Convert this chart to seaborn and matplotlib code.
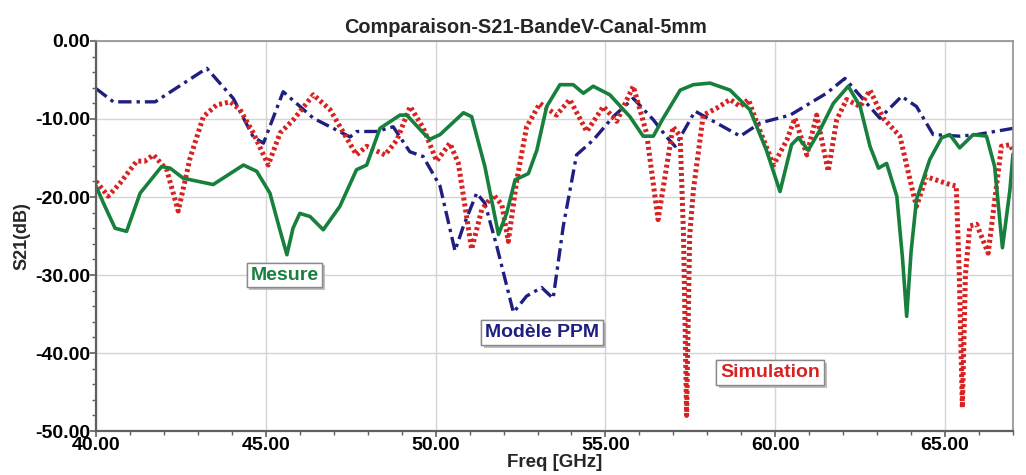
import matplotlib
matplotlib.use("Agg")
import matplotlib.pyplot as plt
import matplotlib.patheffects as pe
from matplotlib.ticker import MultipleLocator, FormatStrFormatter
import seaborn as sns
import pandas as pd

# Mesure (green, solid)
mes_f = [40.0, 40.22, 40.56, 40.9, 41.3, 41.93, 42.18, 42.57, 43.45, 44.34, 44.73, 45.12,
         45.4, 45.62, 45.8, 46.0, 46.3, 46.69, 47.18, 47.67, 47.97, 48.36, 48.95, 49.15,
         49.64, 49.83, 50.13, 50.82, 51.06, 51.45, 51.85, 52.09, 52.34, 52.73, 52.98, 53.27,
         53.66, 54.05, 54.35, 54.64, 55.13, 55.72, 56.11, 56.41, 56.7, 57.2, 57.59, 58.08,
         58.67, 59.25, 59.74, 60.14, 60.48, 60.68, 60.97, 61.32, 61.71, 62.15, 62.5, 62.79,
         63.04, 63.28, 63.58, 63.75, 63.87, 64.0, 64.16, 64.55, 64.9, 65.14, 65.43, 65.83,
         66.22, 66.46, 66.69, 66.91, 67.0]
mes_db = [-18.6, -20.8, -24.0, -24.4, -19.5, -16.1, -16.3, -17.6, -18.4, -15.9, -16.7, -19.5,
          -24.0, -27.4, -24.0, -22.1, -22.5, -24.2, -21.2, -16.5, -15.9, -11.2, -9.5, -9.5,
          -11.8, -12.6, -12.0, -9.2, -9.7, -16.1, -24.8, -22.1, -17.8, -17.0, -14.0, -8.4,
          -5.6, -5.6, -6.7, -5.8, -6.9, -9.7, -12.2, -12.2, -9.9, -6.3, -5.6, -5.4,
          -6.3, -8.8, -14.0, -19.3, -13.3, -12.4, -14.0, -11.4, -8.0, -5.8, -8.4, -13.5,
          -16.3, -15.7, -19.9, -28.0, -35.3, -27.0, -20.3, -15.2, -12.4, -12.0, -13.7, -12.0,
          -12.2, -16.1, -26.5, -19.1, -14.5]

# Simulation (red, dotted)
sim_f = [40.0, 40.36, 40.71, 41.2, 41.44, 41.69, 42.08, 42.42, 42.77, 43.16, 43.55, 43.95,
         44.24, 44.63, 45.07, 45.42, 45.81, 46.4, 46.89, 47.67, 47.97, 48.51, 48.86, 49.25,
         49.64, 50.03, 50.42, 50.67, 51.06, 51.36, 51.7, 51.95, 52.14, 52.39, 52.68, 53.07,
         53.56, 53.95, 54.45, 54.94, 55.33, 55.82, 56.21, 56.55, 56.99, 57.2, 57.3, 57.39,
         57.48, 57.59, 57.88, 58.28, 58.67, 58.97, 59.21, 59.46, 59.95, 60.34, 60.58, 60.93,
         61.22, 61.56, 61.81, 62.1, 62.5, 62.79, 63.18, 63.67, 64.06, 64.16, 64.45, 65.14,
         65.33, 65.42, 65.51, 65.6, 65.73, 65.93, 66.27, 66.66, 66.91, 67.0]
sim_db = [-18.0, -19.9, -18.2, -15.4, -15.4, -14.6, -16.5, -21.8, -15.0, -9.7, -8.2, -7.8,
          -8.8, -11.8, -15.9, -11.8, -10.1, -6.9, -8.8, -14.6, -13.5, -14.6, -12.7, -8.4,
          -11.2, -15.4, -13.1, -15.7, -26.7, -21.6, -19.7, -21.0, -25.7, -17.8, -11.0, -8.0,
          -9.5, -7.5, -11.6, -8.4, -10.3, -5.8, -11.8, -22.9, -11.0, -12.2, -25.0, -48.0,
          -25.0, -19.1, -9.5, -8.6, -7.5, -8.4, -7.5, -10.5, -15.9, -12.7, -9.9, -14.6,
          -9.5, -16.7, -10.1, -7.5, -8.4, -6.3, -9.9, -12.2, -19.5, -21.2, -17.4, -18.4,
          -18.6, -30.0, -47.0, -30.0, -23.7, -23.5, -27.2, -13.5, -13.3, -14.0]

# Modele PPM (navy, dash-dot)
ppm_f = [40.0, 40.51, 41.74, 43.26, 44.04, 44.63, 44.93, 45.51, 46.4, 47.48, 47.67, 48.26,
         48.75, 49.24, 49.63, 50.13, 50.57, 50.82, 51.21, 51.45, 51.8, 52.29, 52.68, 53.12,
         53.46, 53.76, 54.15, 54.64, 55.23, 55.82, 56.41, 56.8, 57.05, 57.64, 58.97, 59.56,
         60.44, 61.51, 62.05, 63.08, 63.72, 64.16, 64.65, 65.43, 65.93, 67.0]
ppm_db = [-6.1, -7.8, -7.8, -3.5, -7.35, -12.3, -13.1, -6.5, -9.9, -12.3, -11.6, -11.6,
          -11.0, -14.2, -14.8, -18.6, -26.9, -23.7, -19.5, -20.8, -26.3, -34.8, -32.7, -31.6,
          -33.0, -23.7, -14.6, -12.7, -9.7, -7.35, -10.1, -12.3, -13.5, -9.0, -12.2, -10.5,
          -9.5, -6.7, -4.8, -9.9, -7.1, -8.4, -12.0, -12.2, -12.0, -11.2]

sns.set_style("white")
plt.rcParams['font.family'] = ['Liberation Sans', 'DejaVu Sans']
plt.rcParams['font.weight'] = 'bold'

fig = plt.figure(figsize=(10.26, 4.75), dpi=100)
ax = fig.add_axes([0.0936, 0.0926, 0.8937, 0.8211])

sns.lineplot(x=ppm_f, y=ppm_db, ax=ax, color='#1f1f80', linewidth=2.4,
             linestyle=(0, (4, 1.5, 1, 1.5)), estimator=None, sort=False)
sns.lineplot(x=sim_f, y=sim_db, ax=ax, color='#d82222', linewidth=3.6,
             linestyle=(0, (0.6, 0.6)), estimator=None, sort=False)
sns.lineplot(x=mes_f, y=mes_db, ax=ax, color='#17803d', linewidth=2.6,
             estimator=None, sort=False)

ax.set_xlim(40, 67)
ax.set_ylim(-50, 0)
ax.xaxis.set_major_locator(MultipleLocator(5))
ax.xaxis.set_minor_locator(MultipleLocator(1))
ax.yaxis.set_major_locator(MultipleLocator(10))
ax.yaxis.set_minor_locator(MultipleLocator(2))
ax.xaxis.set_major_formatter(FormatStrFormatter('%.2f'))
ax.yaxis.set_major_formatter(FormatStrFormatter('%.2f'))
ax.grid(True, which='major', color='#d4d4d4', linewidth=1)
ax.tick_params(which='both', direction='out', colors='#606060', labelcolor='black',
               labelsize=14, left=True, bottom=True)
ax.tick_params(which='major', length=4, width=1.2, pad=0)
ax.tick_params(which='minor', length=3, width=1)
for lab in ax.get_xticklabels() + ax.get_yticklabels():
    lab.set_fontweight('bold')
for side in ['top', 'right']:
    ax.spines[side].set_color('#909090')
    ax.spines[side].set_linewidth(1.2)
for side in ['left', 'bottom']:
    ax.spines[side].set_color('#606060')
    ax.spines[side].set_linewidth(1.6)

ax.set_title('Comparaison-S21-BandeV-Canal-5mm', fontsize=14.3, fontweight='bold',
             pad=6, x=0.468)
ax.set_xlabel('Freq [GHz]', fontsize=13.5, fontweight='bold')
ax.set_ylabel('S21(dB)', fontsize=13, fontweight='bold')
ax.xaxis.set_label_coords(0.5, -0.06)
ax.yaxis.set_label_coords(-0.072, 0.5)

labels = [('Mesure', 45.55, -30.0, '#17803d'),
          ('Modèle PPM', 53.13, -37.4, '#1f1f80'),
          ('Simulation', 59.85, -42.5, '#d82222')]
for txt, lx, ly, col in labels:
    t = ax.text(lx, ly, txt, color=col, fontsize=14, fontweight='bold',
                ha='center', va='center',
                bbox=dict(boxstyle='square,pad=0.2', facecolor='white',
                          edgecolor='#8a8a8a', linewidth=1))
    t.get_bbox_patch().set_path_effects([pe.withSimplePatchShadow(offset=(2, -2),
                                                                   shadow_rgbFace='#b0b0b0',
                                                                   alpha=0.8), pe.Normal()])

fig.savefig('out.png', dpi=100)
